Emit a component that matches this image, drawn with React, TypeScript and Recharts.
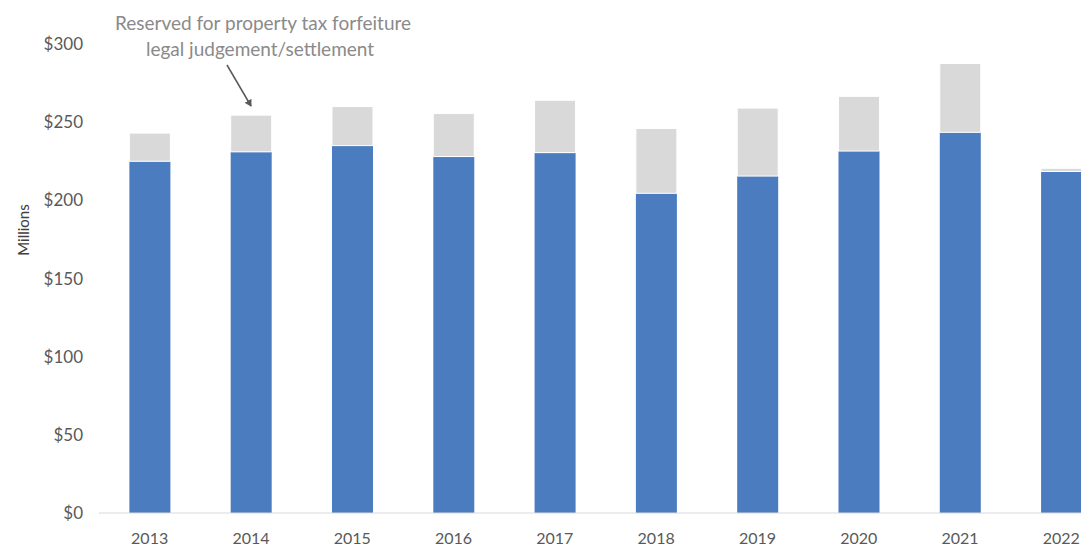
import React from 'react';
import { BarChart, Bar, XAxis, YAxis, Customized } from 'recharts';

const years = ['2013', '2014', '2015', '2016', '2017', '2018', '2019', '2020', '2021', '2022'];
const operating = [225, 231, 235, 228, 230.5, 204.5, 215.5, 231.5, 243.5, 218.5];
const reserved = [18, 23.5, 25, 27.5, 33.5, 41.5, 43.5, 35, 44, 2];
const yTicks = [0, 50, 100, 150, 200, 250, 300];

const data = years.map((y, i) => ({ year: y, operating: operating[i], reserved: reserved[i] }));

const FONT = 'Lato, "Open Sans", sans-serif';

const Annotation = () => (
  <g>
    <defs>
      <marker id="arrowHead" markerWidth="8" markerHeight="8" refX="6" refY="4" orient="auto" markerUnits="userSpaceOnUse">
        <path d="M0,0 L7,4 L0,8 Z" fill="#595959" />
      </marker>
    </defs>
    <text x={255} y={22} textAnchor="middle" fontFamily={FONT} fontSize={19} fill="#8a8a8a">
      Reserved for property tax forfeiture
    </text>
    <text x={252} y={48} textAnchor="middle" fontFamily={FONT} fontSize={19} fill="#8a8a8a">
      legal judgement/settlement
    </text>
    <line x1={219} y1={57} x2={243} y2={98} stroke="#595959" strokeWidth={1.5} markerEnd="url(#arrowHead)" />
    <text
      x={15}
      y={222}
      transform="rotate(-90 15 222)"
      textAnchor="middle"
      dominantBaseline="central"
      fontFamily={FONT}
      fontSize={15}
      fill="#404040"
    >
      Millions
    </text>
  </g>
);

export default function App() {
  return (
    <div style={{ width: 1081, height: 542, overflow: 'hidden' }}>
      <BarChart
        width={1110}
        height={542}
        data={data}
        margin={{ top: 36, right: 6, bottom: 7, left: 0 }}
        barCategoryGap="30%"
      >
        <XAxis
          dataKey="year"
          height={30}
          tickLine={false}
          axisLine={{ stroke: '#d9d9d9', strokeWidth: 1 }}
          tickSize={6}
          tickMargin={14}
          tick={{ fontFamily: FONT, fontSize: 16, fill: '#595959' }}
        />
        <YAxis
          width={91}
          domain={[0, 300]}
          ticks={yTicks}
          axisLine={false}
          tickLine={false}
          tickSize={6}
          tickMargin={10}
          tickFormatter={(v: number) => `$${v}`}
          tick={{ fontFamily: FONT, fontSize: 17, fill: '#595959' }}
        />
        <Bar dataKey="operating" stackId="a" fill="#4a7cbf" isAnimationActive={false} />
        <Bar dataKey="reserved" stackId="a" fill="#d9d9d9" stroke="#ffffff" strokeWidth={1} isAnimationActive={false} />
        <Customized component={Annotation} />
      </BarChart>
    </div>
  );
}
